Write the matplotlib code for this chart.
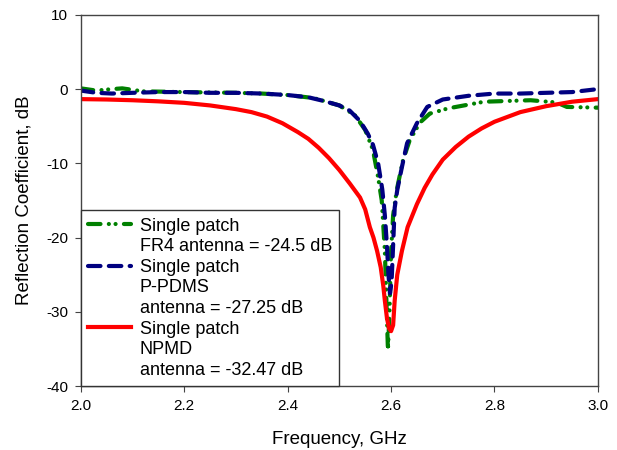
import numpy as np
import matplotlib
matplotlib.use("Agg")
import matplotlib.pyplot as plt
from matplotlib.lines import Line2D

plt.rcParams['font.family'] = ['Liberation Sans', 'DejaVu Sans']
plt.rcParams['axes.unicode_minus'] = False

# FR4 antenna (green, dash-dot-dot)
f_fr4 = [2.00, 2.03, 2.06, 2.08, 2.12, 2.20, 2.30, 2.35, 2.40, 2.45, 2.50, 2.53,
         2.55, 2.565, 2.575, 2.582, 2.588, 2.591, 2.594, 2.597, 2.600, 2.604,
         2.611, 2.623, 2.636, 2.656, 2.675, 2.71, 2.78, 2.87, 2.92, 2.94, 3.00]
s_fr4 = [0.1, -0.2, 0.0, 0.1, -0.3, -0.4, -0.5, -0.6, -0.8, -1.2, -2.2, -3.5,
         -5.5, -8.2, -11.9, -15.0, -21.8, -28.5, -35.2, -30.0, -22.0, -17.0,
         -13.6, -9.6, -6.9, -4.5, -3.3, -2.6, -1.7, -1.5, -1.8, -2.4, -2.5]

# P-PDMS antenna (navy, dashed)
f_pdms = [2.00, 2.03, 2.06, 2.10, 2.15, 2.20, 2.25, 2.30, 2.35, 2.40, 2.44, 2.47,
          2.50, 2.52, 2.54, 2.555, 2.565, 2.575, 2.583, 2.588, 2.592, 2.595,
          2.598, 2.601, 2.604, 2.607, 2.612, 2.621, 2.631, 2.65, 2.67, 2.70,
          2.75, 2.80, 2.85, 2.90, 2.95, 3.00]
s_pdms = [-0.2, -0.5, -0.6, -0.5, -0.4, -0.4, -0.5, -0.5, -0.6, -0.8, -1.1, -1.6,
          -2.2, -2.9, -4.3, -6.0, -7.5, -10.0, -13.5, -17.0, -21.0, -25.0,
          -27.5, -26.0, -21.0, -16.0, -13.6, -10.5, -7.3, -4.6, -2.4, -1.4,
          -0.9, -0.6, -0.6, -0.5, -0.4, 0.0]

# NPMD antenna (red, solid)
f_npmd = [2.00, 2.05, 2.10, 2.15, 2.20, 2.25, 2.30, 2.33, 2.36, 2.39, 2.42, 2.44,
          2.46, 2.48, 2.50, 2.52, 2.54, 2.55, 2.559, 2.566, 2.573, 2.58, 2.585,
          2.588, 2.592, 2.596, 2.600, 2.604, 2.607, 2.612, 2.621, 2.632, 2.65,
          2.665, 2.68, 2.70, 2.725, 2.75, 2.775, 2.80, 2.85, 2.90, 2.95, 3.00]
s_npmd = [-1.35, -1.4, -1.5, -1.65, -1.85, -2.2, -2.7, -3.1, -3.7, -4.6, -5.8, -6.7,
          -7.9, -9.3, -10.9, -12.7, -14.6, -16.2, -18.6, -20.0, -21.8, -24.0, -26.5,
          -28.5, -30.8, -32.2, -32.6, -31.8, -28.5, -25.0, -21.8, -18.6, -15.5,
          -13.3, -11.5, -9.5, -7.8, -6.4, -5.3, -4.4, -3.1, -2.3, -1.7, -1.35]

legend_rows = [["Single patch", "FR4 antenna = -24.5 dB"],
               ["Single patch", "P-PDMS", "antenna = -27.25 dB"],
               ["Single patch", "NPMD", "antenna = -32.47 dB"]]

fig = plt.figure(figsize=(6.17, 4.5), dpi=100)
ax = fig.add_axes([0.131, 0.142, 0.838, 0.825])

l1, = ax.plot(f_fr4, s_fr4, color='#008000', lw=3,
              linestyle=(0, (3, 2, 0.01, 1.6, 0.01, 2)), dash_capstyle='round')
l2, = ax.plot(f_pdms, s_pdms, color='#000080', lw=3,
              linestyle=(0, (3, 2)), dash_capstyle='round')
l3, = ax.plot(f_npmd, s_npmd, color='red', lw=3)

ax.set_xlim(2.0, 3.0)
ax.set_ylim(-40, 10)
ax.set_xticks(np.arange(2.0, 3.01, 0.2))
ax.set_yticks([-40, -30, -20, -10, 0, 10])
ax.xaxis.set_major_formatter(matplotlib.ticker.FormatStrFormatter('%.1f'))
ax.tick_params(direction='out', length=4, labelsize=11, pad=5, color='#444444')
for s in ax.spines.values():
    s.set_color('#444444')
    s.set_linewidth(1)

ax.set_xlabel('Frequency, GHz', fontsize=13.5, labelpad=13)
ax.set_ylabel('Reflection Coefficient, dB', fontsize=13.5, labelpad=10)

# one legend row per text line, handle only on the first line of each entry
blank = Line2D([], [], color='none')
handles, texts = [], []
for line, rows in zip([l1, l2, l3], legend_rows):
    for i, t in enumerate(rows):
        handles.append(line if i == 0 else blank)
        texts.append(t)

leg = ax.legend(handles, texts, loc='lower left', bbox_to_anchor=(0, 0),
                borderaxespad=0, fontsize=13, handlelength=2.4,
                handletextpad=0.45, fancybox=False, framealpha=1,
                edgecolor='#333333', labelspacing=0.2, borderpad=0.4)
leg.get_frame().set_linewidth(1)

fig.savefig('out.png', dpi=100)
